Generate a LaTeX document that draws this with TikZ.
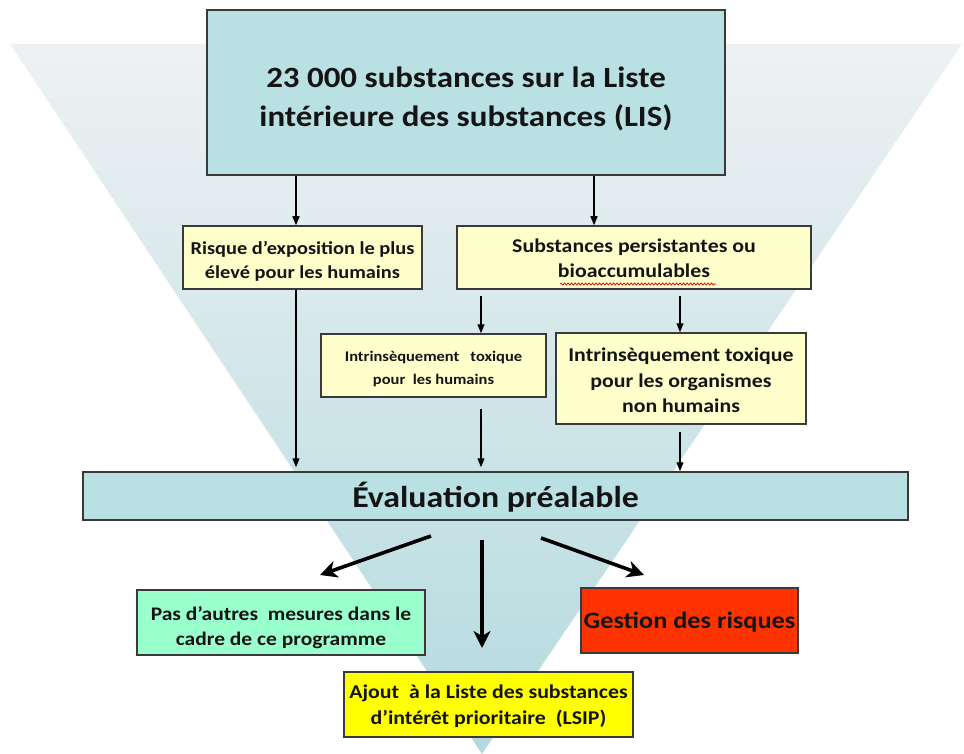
\documentclass[tikz,border=0pt]{standalone}
\usepackage{fontspec}
\setmainfont{Carlito}[FakeStretch=1.12]
\usetikzlibrary{arrows.meta,decorations.pathmorphing,calc}

\definecolor{tealbox}{HTML}{B9E0E3}
\definecolor{paleyellow}{HTML}{FFFFCC}
\definecolor{mint}{HTML}{99FFCC}
\definecolor{redbox}{HTML}{FF3300}
\definecolor{yellowbox}{HTML}{FFFF00}
\definecolor{boxline}{HTML}{3A3A3A}
\definecolor{textc}{HTML}{141414}
\definecolor{funneltop}{HTML}{EEF1F3}
\definecolor{funnelbot}{HTML}{B3DADF}

\begin{document}
\begin{tikzpicture}[x=1pt,y=-1pt,
  box/.style={draw=boxline, line width=1.5pt, inner sep=0pt},
  txt/.style={inner sep=0pt, align=center, text=textc},
  thinarrow/.style={draw=black, line width=1.3pt, -{Triangle[length=9pt,width=7pt]}},
  thickarrow/.style={draw=black, line width=3.6pt, -{Stealth[length=17pt,width=17pt,inset=5pt]}}
]
\useasboundingbox (0,0) rectangle (964,754);

% background funnel
\shade[top color=funneltop, bottom color=funnelbot]
  (10,44) -- (962,44) -- (482,754) -- cycle;

% boxes
\node[box, fill=tealbox, minimum width=518pt, minimum height=165pt] (lis) at (466,92.5) {};
\node[box, fill=paleyellow, minimum width=239pt, minimum height=63pt] (risk) at (302.5,257.5) {};
\node[box, fill=paleyellow, minimum width=354pt, minimum height=63pt] (pers) at (634,257.5) {};
\node[box, fill=paleyellow, minimum width=225pt, minimum height=63pt] (toxh) at (433.5,365.5) {};
\node[box, fill=paleyellow, minimum width=250pt, minimum height=91pt] (toxo) at (681,378.5) {};
\node[box, fill=tealbox, minimum width=825pt, minimum height=48pt] (eval) at (495.5,496) {};
\node[box, fill=mint, minimum width=288pt, minimum height=65pt] (none) at (281,622.5) {};
\node[box, fill=redbox, minimum width=217pt, minimum height=65pt] (mgmt) at (689.5,620.5) {};
\node[box, fill=yellowbox, minimum width=289pt, minimum height=65pt] (lsip) at (488.5,704.5) {};

% box texts
\node[txt, font=\bfseries\fontsize{29.4}{39}\selectfont] (lisT) at ([yshift=-6pt]lis.center)
  {23 000 substances sur la Liste\\intérieure des substances (LIS)};
\node[txt, font=\bfseries\fontsize{18.2}{24}\selectfont] (riskT) at ([yshift=-4pt]risk.center)
  {Risque d’exposition le plus\\élevé pour les humains};
\node[txt, font=\bfseries\fontsize{19.5}{25}\selectfont] (persT) at ([yshift=-1pt]pers.center)
  {Substances persistantes ou\\bioaccumulables};
\node[txt, font=\bfseries\fontsize{14.7}{23}\selectfont] (toxhT) at ([yshift=-3pt]toxh.center)
  {Intrinsèquement \ \ toxique\\pour \ les humains};
\node[txt, font=\bfseries\fontsize{19.5}{25.5}\selectfont] (toxoT) at ([yshift=-2pt]toxo.center)
  {Intrinsèquement toxique\\pour les organismes\\non humains};
\node[txt, font=\bfseries\fontsize{30.2}{32}\selectfont] (evalT) at ([yshift=-1pt]eval.center)
  {Évaluation préalable};
\node[txt, font=\bfseries\fontsize{19.2}{25}\selectfont] (noneT) at ([yshift=-5pt]none.center)
  {Pas d’autres \ mesures dans le\\cadre de ce programme};
\node[txt, font=\bfseries\fontsize{23.5}{26}\selectfont] (mgmtT) at ([yshift=-2pt]mgmt.center)
  {Gestion des risques};
\node[txt, font=\bfseries\fontsize{19.5}{26}\selectfont] (lsipT) at ([yshift=-2pt]lsip.center)
  {Ajout \ à la Liste des substances\\d’intérêt prioritaire \ (LSIP)};

% spell-check squiggle under "bioaccumulables"
\coordinate (sqa) at (560,284);
\coordinate (sqb) at (716,284);
\draw[red!85!black, line width=0.7pt,
      decorate, decoration={snake, amplitude=1.1pt, segment length=3.5pt}]
  (sqa) -- (sqb);

% arrow columns
\coordinate (cA) at (296,0);
\coordinate (cB) at (594,0);
\coordinate (cC) at (481,0);
\coordinate (cD) at (680,0);

\draw[thinarrow] (lis.south -| cA) -- (risk.north -| cA);
\draw[thinarrow] (lis.south -| cB) -- (pers.north -| cB);
\draw[thinarrow] ([yshift=-6pt]pers.south -| cC) -- (toxh.north -| cC);
\draw[thinarrow] ([yshift=-6pt]pers.south -| cD) -- (toxo.north -| cD);
\draw[thinarrow] (risk.south -| cA) -- ([yshift=4pt]eval.north -| cA);
\draw[thinarrow] ([yshift=-11pt]toxh.south -| cC) -- ([yshift=4pt]eval.north -| cC);
\draw[thinarrow] ([yshift=-7pt]toxo.south -| cD) -- (eval.north -| cD);

% outcome arrows
\coordinate (oL0) at (431,536);
\coordinate (oL1) at (320,575);
\coordinate (oM0) at (482,540);
\coordinate (oM1) at (482,648);
\coordinate (oR0) at (541,538);
\coordinate (oR1) at (644,575);
\draw[thickarrow] (oL0) -- (oL1);
\draw[thickarrow] (oM0) -- (oM1);
\draw[thickarrow] (oR0) -- (oR1);
\end{tikzpicture}
\end{document}
